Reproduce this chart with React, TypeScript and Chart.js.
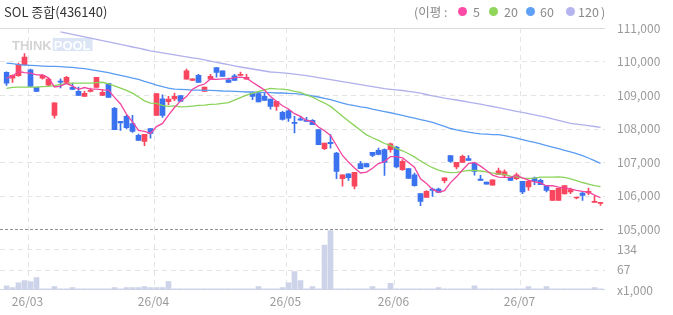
import { useEffect, useRef } from "react";
import { Chart, registerables } from "chart.js";

Chart.register(...registerables);

const title = "SOL 종합(436140)";
const maPeriods = [5, 20, 60, 120];
const monthLabels = ["26/03", "26/04", "26/05", "26/06", "26/07"];
const monthStarts = [4, 25, 47, 65, 86];
const priceTicks = [105000, 106000, 107000, 108000, 109000, 110000, 111000];
const volumeTicks = [0, 67, 134];
const volumeMax = 201;

const opens = [
  109675, 109505, 109575, 109895, 109755, 109230, 109505, 109295, 108390, 109390,
  109375, 109230, 109110, 108960, 109110, 109230, 108990, 109345, 108600, 108215,
  108360, 108145, 107795, 107615, 107995, 108390, 108885, 108800, 108880, 108980,
  109475, 109435, 109585, 109110, 109475, 109815, 109725, 109455, 109575, 109585,
  109475, 109060, 109040, 108960, 108880, 108660, 108480, 108530, 108185, 108285,
  108255, 108245, 107965, 107395, 107585, 107270, 106500, 106650, 106275, 106950,
  106950, 107290, 107350, 107370, 107370, 107445, 106770, 106800, 106620, 106055,
  105945, 106195, 106195, 106440, 107190, 106850, 106990, 107100, 106970, 106490,
  106400, 106305, 106630, 106610, 106550, 106500, 106420, 106255, 106520, 106450,
  106295, 105855, 105855, 106045, 106105, 105925, 106075, 106075, 105795, 105765,
];
const highs = [
  109690, 109605, 109955, 110235, 109775, 109240, 109605, 109505, 108770, 109485,
  109555, 109355, 109240, 109110, 109210, 109525, 109160, 109345, 108630, 108215,
  108390, 108390, 107835, 107825, 107995, 109045, 109005, 108960, 109060, 108980,
  109775, 109485, 109615, 109240, 109615, 109815, 109725, 109505, 109615, 109685,
  109615, 109060, 109060, 109080, 108880, 108810, 108510, 108560, 108360, 108360,
  108330, 108270, 107965, 107565, 107815, 107290, 106620, 106650, 106690, 107020,
  106970, 107290, 107415, 107390, 107565, 107465, 107070, 106800, 106670, 106055,
  106145, 106225, 106225, 106530, 107190, 106990, 107210, 107190, 106970, 106600,
  106400, 106470, 106820, 106770, 106550, 106670, 106420, 106450, 106550, 106490,
  106295, 106155, 106215, 106295, 106225, 105935, 106105, 106225, 105975, 105785,
];
const lows = [
  109285, 109375, 109555, 109895, 109255, 109100, 109475, 109275, 108310, 109210,
  109355, 109160, 108980, 108960, 109090, 109230, 108990, 108930, 107965, 107945,
  107995, 107885, 107645, 107485, 107715, 108390, 108330, 108710, 108830, 108810,
  109475, 109435, 109375, 109110, 109475, 109535, 109555, 109375, 109435, 109585,
  109475, 108860, 108790, 108840, 108580, 108540, 108245, 108215, 107865, 108245,
  108215, 108115, 107515, 107365, 107415, 106500, 106275, 106450, 106195, 106800,
  106850, 107160, 107210, 106600, 107290, 106820, 106750, 106510, 106275, 105695,
  105945, 105975, 106095, 106375, 106990, 106790, 106990, 107050, 106610, 106450,
  106340, 106305, 106630, 106540, 106450, 106470, 106055, 106155, 106320, 106325,
  106105, 105855, 105855, 106045, 106055, 105895, 105855, 106025, 105795, 105705,
];
const closes = [
  109355, 109585, 109915, 110135, 109255, 109105, 109585, 109475, 108770, 109385,
  109525, 109170, 108990, 109050, 109140, 109525, 109080, 108930, 107965, 108165,
  108025, 107915, 107645, 107825, 107855, 109045, 108390, 108880, 108960, 108810,
  109725, 109485, 109375, 109240, 109555, 109675, 109555, 109375, 109435, 109615,
  109525, 108960, 108790, 108840, 108660, 108810, 108270, 108305, 108150, 108245,
  108215, 108115, 107515, 107565, 107545, 106720, 106620, 106530, 106690, 106800,
  106850, 107200, 107230, 106990, 107545, 106850, 107020, 106510, 106295, 105825,
  106125, 106155, 106095, 106530, 107020, 106990, 107170, 107050, 106720, 106450,
  106340, 106470, 106740, 106710, 106450, 106620, 106105, 106420, 106420, 106325,
  106155, 106155, 106215, 106295, 106175, 105925, 106005, 106125, 105825, 105785,
];
const volumes = [
  14, 8, 24, 31, 28, 41, 4, 4, 11, 4,
  4, 8, 4, 4, 4, 4, 4, 4, 8, 4,
  8, 8, 8, 11, 8, 8, 8, 28, 4, 4,
  4, 4, 4, 4, 4, 4, 4, 4, 4, 4,
  4, 4, 11, 4, 4, 4, 8, 24, 61, 31,
  4, 11, 4, 148, 196, 4, 4, 4, 4, 4,
  4, 11, 4, 4, 22, 4, 4, 4, 4, 4,
  4, 4, 8, 4, 4, 4, 4, 4, 14, 4,
  4, 4, 4, 4, 4, 4, 4, 11, 4, 4,
  11, 4, 4, 4, 4, 4, 4, 4, 8, 4,
];
const ma5 = [
  109500, 109560, 109700, 109670, 109650, 109600, 109600, 109512, 109240, 109265,
  109349, 109265, 109168, 109223, 109174, 109174, 109156, 109144, 108927, 108732,
  108432, 108199, 107942, 107914, 107853, 108057, 108153, 108399, 108626, 108817,
  108954, 109173, 109272, 109328, 109477, 109467, 109481, 109481, 109521, 109533,
  109503, 109383, 109266, 109147, 108956, 108812, 108677, 108581, 108443, 108360,
  108240, 108207, 108047, 107931, 107792, 107493, 107195, 106998, 106822, 106673,
  106699, 106814, 106953, 107013, 107162, 107162, 107126, 106983, 106844, 106500,
  106355, 106182, 106098, 106146, 106385, 106558, 106761, 106952, 106989, 106876,
  106747, 106607, 106546, 106544, 106544, 106599, 106526, 106462, 106404, 106378,
  106285, 106295, 106253, 106227, 106198, 106152, 106122, 106104, 106010, 105933,
];
const ma20 = [
  109198, 109228, 109238, 109238, 109238, 109238, 109248, 109258, 109278, 109317,
  109337, 109357, 109357, 109357, 109357, 109367, 109380, 109330, 109270, 109205,
  109139, 109055, 108942, 108826, 108756, 108753, 108693, 108663, 108673, 108644,
  108654, 108670, 108689, 108699, 108720, 108727, 108751, 108774, 108847, 108920,
  108995, 109047, 109105, 109155, 109196, 109184, 109178, 109150, 109110, 109081,
  109006, 108937, 108844, 108760, 108660, 108512, 108365, 108223, 108086, 107945,
  107811, 107723, 107645, 107552, 107497, 107399, 107335, 107245, 107153, 107032,
  106927, 106829, 106758, 106706, 106680, 106693, 106721, 106747, 106748, 106731,
  106705, 106669, 106645, 106631, 106576, 106565, 106519, 106514, 106521, 106546,
  106547, 106547, 106553, 106541, 106499, 106446, 106388, 106341, 106296, 106263,
];
const ma60 = [
  109954, 109934, 109904, 109894, 109884, 109874, 109864, 109855, 109855, 109845,
  109835, 109825, 109805, 109785, 109755, 109725, 109695, 109665, 109626, 109586,
  109546, 109506, 109466, 109407, 109357, 109297, 109248, 109208, 109178, 109168,
  109158, 109148, 109148, 109138, 109138, 109128, 109119, 109114, 109109, 109099,
  109089, 109089, 109079, 109079, 109069, 109059, 109059, 109049, 109039, 109029,
  109000, 108970, 108940, 108900, 108860, 108810, 108760, 108711, 108680, 108645,
  108625, 108580, 108540, 108505, 108470, 108430, 108390, 108350, 108310, 108265,
  108225, 108183, 108120, 108060, 108000, 107960, 107920, 107890, 107860, 107840,
  107830, 107820, 107815, 107790, 107750, 107710, 107670, 107620, 107586, 107540,
  107490, 107445, 107400, 107350, 107300, 107250, 107190, 107120, 107040, 106960,
];
const ma120 = [
  null, null, null, null, null, null, null, null, null, 110887,
  110848, 110812, 110773, 110734, 110699, 110660, 110624, 110585, 110546, 110510,
  110472, 110433, 110397, 110358, 110319, 110287, 110257, 110227, 110197, 110167,
  110140, 110110, 110084, 110048, 110012, 109976, 109940, 109904, 109869, 109836,
  109806, 109776, 109746, 109716, 109687, 109678, 109663, 109648, 109624, 109600,
  109576, 109546, 109516, 109487, 109457, 109427, 109397, 109367, 109337, 109310,
  109281, 109251, 109221, 109191, 109170, 109152, 109134, 109110, 109084, 109057,
  109015, 108976, 108943, 108908, 108878, 108851, 108821, 108788, 108755, 108725,
  108693, 108657, 108621, 108585, 108549, 108514, 108478, 108442, 108406, 108370,
  108334, 108284, 108239, 108197, 108155, 108131, 108108, 108084, 108060, 108036,
];

const UP = "#f9475f";
const DOWN = "#3b72ef";
const MA_COLORS = ["#f2449f", "#8ad35a", "#5a9cf2", "#b1b0ec"];
const DOT_COLORS = ["#ff4ba6", "#8fd65a", "#5fa0f7", "#b4b5f0"];
const VOL_COLOR = "#cdd3e9";
const FONT = "'Noto Sans CJK KR', 'Noto Sans', sans-serif";

const days = opens.map((_, i) => String(i));

const gridPlugin = {
  id: "customGrid",
  beforeDatasetsDraw(chart: any) {
    const { ctx, chartArea, scales } = chart;
    const y = scales.y;
    const yv = scales.yv;
    const x = scales.x;
    const L = 0;
    const R = 605;
    ctx.save();
    ctx.lineWidth = 1;

    // watermark
    ctx.font = "bold 13px 'Liberation Sans', Arial, sans-serif";
    ctx.textBaseline = "alphabetic";
    ctx.fillStyle = "rgba(170,170,170,0.5)";
    ctx.fillText("THINK", 12, 50);
    const tw = ctx.measureText("THINK").width;
    const pw = ctx.measureText("POOL").width;
    const px0 = 12 + tw + 2;
    ctx.fillStyle = "rgba(190,208,236,0.55)";
    ctx.fillRect(px0 - 1, 38, pw + 3, 13);
    ctx.fillStyle = "rgba(255,255,255,0.95)";
    ctx.fillText("POOL", px0, 50);

    ctx.strokeStyle = "#e4e4e4";
    ctx.setLineDash([5, 4]);
    for (const v of priceTicks) {
      if (v === priceTicks[0] || v === priceTicks[priceTicks.length - 1]) continue;
      const py = Math.round(y.getPixelForValue(v)) + 0.5;
      ctx.beginPath();
      ctx.moveTo(L, py);
      ctx.lineTo(R, py);
      ctx.stroke();
    }
    for (const v of volumeTicks) {
      if (v === 0) continue;
      const py = Math.round(yv.getPixelForValue(v)) + 0.5;
      ctx.beginPath();
      ctx.moveTo(L, py);
      ctx.lineTo(R, py);
      ctx.stroke();
    }
    for (const m of monthStarts) {
      const px = Math.round((x.getPixelForValue(m - 1) + x.getPixelForValue(m)) / 2) + 0.5;
      ctx.beginPath();
      ctx.moveTo(px, chartArea.top);
      ctx.lineTo(px, chartArea.bottom);
      ctx.stroke();
    }

    ctx.setLineDash([]);
    ctx.strokeStyle = "#dcdcdc";
    const topY = Math.round(y.getPixelForValue(priceTicks[priceTicks.length - 1])) + 0.5;
    ctx.beginPath();
    ctx.moveTo(L, topY);
    ctx.lineTo(R, topY);
    ctx.stroke();

    ctx.strokeStyle = "#d2d6e6";
    const baseY = Math.round(yv.getPixelForValue(0)) - 0.5;
    ctx.beginPath();
    ctx.moveTo(L, baseY);
    ctx.lineTo(R, baseY);
    ctx.stroke();

    ctx.strokeStyle = "#8f8f8f";
    ctx.setLineDash([3, 2]);
    const sepY = Math.round(y.getPixelForValue(priceTicks[0])) + 0.5;
    ctx.beginPath();
    ctx.moveTo(L, sepY);
    ctx.lineTo(R, sepY);
    ctx.stroke();
    ctx.restore();
  },
};

const candleColor = (ctx: any) =>
  closes[ctx.dataIndex] >= opens[ctx.dataIndex] ? UP : DOWN;

export default function App() {
  const ref = useRef<HTMLCanvasElement | null>(null);

  useEffect(() => {
    if (!ref.current) return;
    const maSets = [ma5, ma20, ma60, ma120].map((d, k) => ({
      type: "line" as const,
      label: `MA${maPeriods[k]}`,
      data: d,
      yAxisID: "y",
      borderColor: MA_COLORS[k],
      borderWidth: 1.3,
      pointRadius: 0,
      tension: 0,
      spanGaps: false,
      order: 0,
    }));
    const tickFont = { family: FONT, size: 12 };
    const chart = new Chart(ref.current, {
      type: "bar",
      data: {
        labels: days,
        datasets: [
          ...maSets,
          {
            type: "bar",
            label: "wick",
            data: lows.map((l, i) => [l, highs[i]]),
            yAxisID: "y",
            backgroundColor: candleColor,
            barThickness: 1,
            grouped: false,
            order: 1,
          },
          {
            type: "bar",
            label: "body",
            data: opens.map((o, i) => [o, closes[i]]),
            yAxisID: "y",
            backgroundColor: candleColor,
            barThickness: 5,
            minBarLength: 1,
            grouped: false,
            order: 1,
          },
          {
            type: "bar",
            label: "volume",
            data: volumes,
            yAxisID: "yv",
            backgroundColor: VOL_COLOR,
            barThickness: 5,
            grouped: false,
            order: 2,
          },
        ] as any,
      },
      options: {
        animation: false,
        responsive: false,
        devicePixelRatio: 1,
        layout: { padding: { left: 3.5, top: 28, right: 0, bottom: 0 } },
        plugins: { legend: { display: false }, tooltip: { enabled: false } },
        events: [],
        scales: {
          x: {
            type: "category",
            offset: true,
            grid: { display: false, drawTicks: false },
            border: { display: false },
            ticks: {
              autoSkip: false,
              maxRotation: 0,
              minRotation: 0,
              labelOffset: -3,
              padding: 4,
              color: "#9a9a9a",
              font: tickFont,
              callback: (_v: any, i: number) => {
                const k = monthStarts.indexOf(i);
                return k >= 0 ? monthLabels[k] : "";
              },
            },
            afterFit: (s: any) => {
              s.height = 25;
            },
          },
          y: {
            type: "linear",
            position: "right",
            stack: "panes",
            stackWeight: 201,
            min: priceTicks[0],
            max: priceTicks[priceTicks.length - 1],
            afterBuildTicks: (s: any) => {
              s.ticks = priceTicks.map((v) => ({ value: v }));
            },
            grid: { display: false, drawTicks: false },
            border: { display: false },
            ticks: {
              autoSkip: false,
              padding: 13.5,
              color: "#9a9a9a",
              font: tickFont,
              callback: (v: any) => Number(v).toLocaleString("en-US"),
            },
            afterFit: (s: any) => {
              s.width = 69.5;
            },
          },
          yv: {
            type: "linear",
            position: "right",
            stack: "panes",
            stackWeight: 61,
            min: 0,
            max: volumeMax,
            afterBuildTicks: (s: any) => {
              s.ticks = volumeTicks.map((v) => ({ value: v }));
            },
            grid: { display: false, drawTicks: false },
            border: { display: false },
            ticks: {
              autoSkip: false,
              padding: 13.5,
              color: "#9a9a9a",
              font: tickFont,
              callback: (v: any) => (Number(v) === 0 ? "x1,000" : String(v)),
            },
            afterFit: (s: any) => {
              s.width = 69.5;
            },
          },
        },
      } as any,
      plugins: [gridPlugin],
    });
    return () => chart.destroy();
  }, []);

  const legendItems: { text?: string; dot?: string; x: number }[] = [
    { text: "(이평 :", x: 414 },
    { dot: DOT_COLORS[0], x: 458 },
    { text: String(maPeriods[0]), x: 473 },
    { dot: DOT_COLORS[1], x: 489 },
    { text: String(maPeriods[1]), x: 504 },
    { dot: DOT_COLORS[2], x: 526 },
    { text: String(maPeriods[2]), x: 540 },
    { dot: DOT_COLORS[3], x: 566 },
    { text: String(maPeriods[3]), x: 578 },
    { text: ")", x: 601 },
  ];

  return (
    <div
      style={{
        position: "fixed",
        left: 0,
        top: 0,
        width: 673,
        height: 315,
        background: "#fff",
        fontFamily: FONT,
      }}
    >
      <canvas ref={ref} width={673} height={315} style={{ display: "block" }} />
      <div
        style={{
          position: "absolute",
          left: 4,
          top: 3,
          fontSize: 13,
          lineHeight: "18px",
          color: "#333",
          whiteSpace: "nowrap",
        }}
      >
        {title}
      </div>
      {legendItems.map((it, i) =>
        it.dot ? (
          <span
            key={i}
            style={{
              position: "absolute",
              left: it.x,
              top: 7,
              width: 9,
              height: 9,
              borderRadius: "50%",
              background: it.dot,
            }}
          />
        ) : (
          <span
            key={i}
            style={{
              position: "absolute",
              left: it.x,
              top: 3,
              fontSize: 12.5,
              lineHeight: "18px",
              color: "#8a8a8a",
              whiteSpace: "nowrap",
            }}
          >
            {it.text}
          </span>
        )
      )}
    </div>
  );
}
